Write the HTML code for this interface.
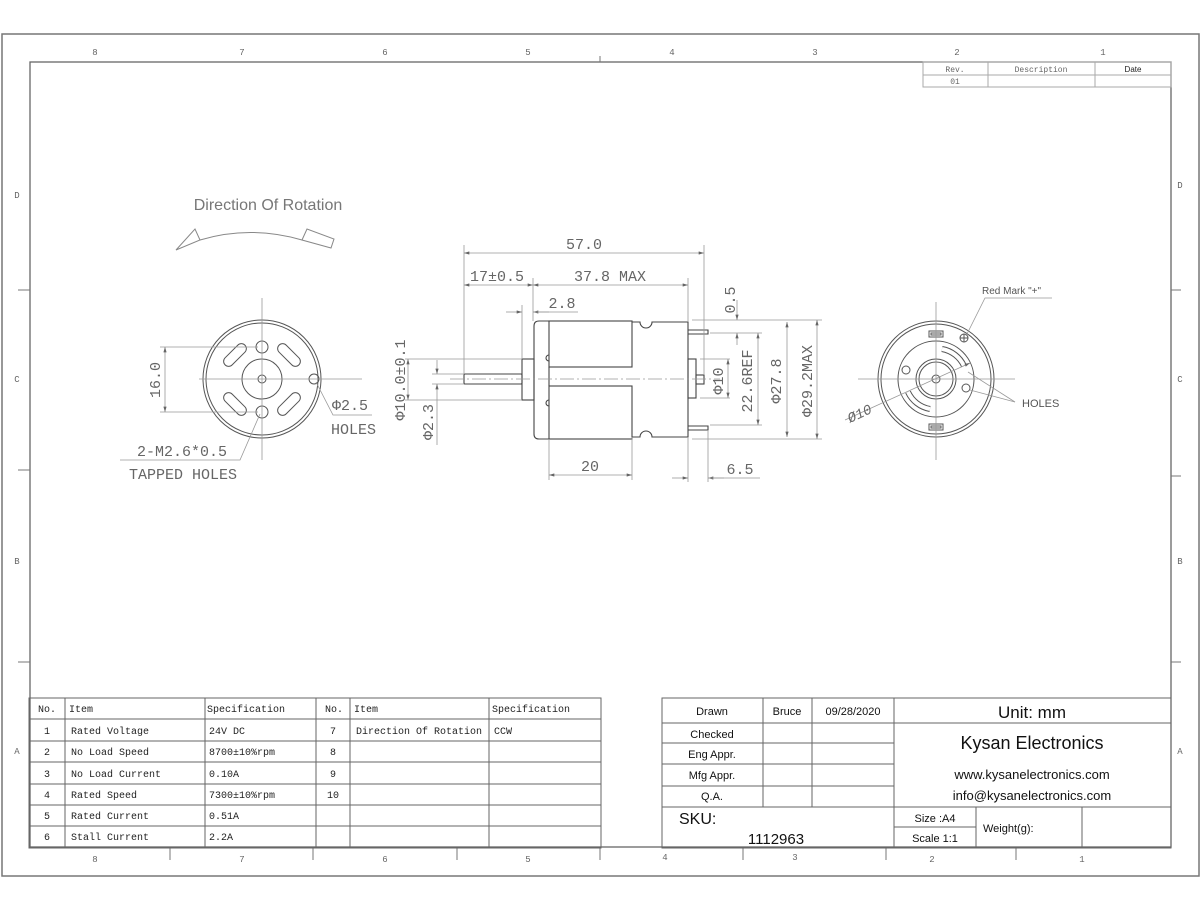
<!DOCTYPE html>
<html><head><meta charset="utf-8"><style>
html,body{margin:0;padding:0;background:#fff;}
svg{display:block;}
.m{font-family:"Liberation Mono",monospace;fill:#666;}
.s{font-family:"Liberation Sans",sans-serif;fill:#222;}
</style></head><body>
<svg width="1200" height="910" viewBox="0 0 1200 910" xmlns="http://www.w3.org/2000/svg">
<defs>
<marker id="a" viewBox="0 0 10 6" refX="10" refY="3" markerWidth="8" markerHeight="4" orient="auto-start-reverse"><path d="M0,0 L10,3 L0,6 z" fill="#666"/></marker>
</defs>
<rect width="1200" height="910" fill="#fff"/>
<rect x="2" y="34" width="1197" height="842" fill="none" stroke="#777" stroke-width="1.5"/>
<rect x="30" y="62" width="1141" height="785" fill="none" stroke="#666" stroke-width="1.3"/>
<g stroke="#777" stroke-width="1">
<line x1="600" y1="56" x2="600" y2="62"/>
<line x1="170" y1="848" x2="170" y2="860"/><line x1="313" y1="848" x2="313" y2="860"/><line x1="457" y1="848" x2="457" y2="860"/><line x1="600" y1="848" x2="600" y2="860"/><line x1="743" y1="848" x2="743" y2="860"/><line x1="886" y1="848" x2="886" y2="860"/><line x1="1016" y1="848" x2="1016" y2="860"/>
<line x1="18" y1="290" x2="30" y2="290"/><line x1="18" y1="470" x2="30" y2="470"/><line x1="18" y1="662" x2="30" y2="662"/>
<line x1="1171" y1="290" x2="1181" y2="290"/><line x1="1171" y1="476" x2="1181" y2="476"/><line x1="1171" y1="662" x2="1181" y2="662"/>
</g>
<g class="m" font-size="9" text-anchor="middle">
<text x="95" y="55">8</text><text x="242" y="55">7</text><text x="385" y="55">6</text><text x="528" y="55">5</text><text x="672" y="55">4</text><text x="815" y="55">3</text><text x="957" y="55">2</text><text x="1103" y="55">1</text>
<text x="95" y="862">8</text><text x="242" y="862">7</text><text x="385" y="862">6</text><text x="528" y="862">5</text><text x="665" y="860">4</text><text x="795" y="860">3</text><text x="932" y="862">2</text><text x="1082" y="862">1</text>
<text x="17" y="198">D</text><text x="17" y="382">C</text><text x="17" y="564">B</text><text x="17" y="754">A</text>
<text x="1180" y="188">D</text><text x="1180" y="382">C</text><text x="1180" y="564">B</text><text x="1180" y="754">A</text>
</g>
<g stroke="#aaa" fill="none"><rect x="923" y="62" width="248" height="25"/><line x1="923" y1="75" x2="1171" y2="75"/><line x1="988" y1="62" x2="988" y2="87"/><line x1="1095" y1="62" x2="1095" y2="87"/></g>
<g font-size="8" text-anchor="middle"><text class="m" x="955" y="72">Rev.</text><text class="m" x="1041" y="72">Description</text><text class="s" x="1133" y="72" fill="#555">Date</text><text class="m" x="955" y="84">01</text></g>

<text x="268" y="210" font-family="Liberation Sans,sans-serif" font-size="16" fill="#777" text-anchor="middle">Direction Of Rotation</text>
<g stroke="#888" fill="none" stroke-width="1">
<path d="M200,240 Q250,225 302,240"/>
<path d="M176,250 L195,229 L200,240 Z"/>
<path d="M302,240 L307,229 L334,239 L331,248 Z"/>
</g>

<g stroke="#555" fill="none" stroke-width="1">
<circle cx="262" cy="379" r="59"/><circle cx="262" cy="379" r="56"/>
<circle cx="262" cy="379" r="20"/><circle cx="262" cy="379" r="4"/>
<circle cx="262" cy="347" r="6"/><circle cx="262" cy="412" r="6"/><circle cx="314" cy="379" r="5"/>
<rect x="-14" y="-5" width="28" height="10" rx="5" transform="translate(235,355) rotate(-45)"/>
<rect x="-14" y="-5" width="28" height="10" rx="5" transform="translate(289,355) rotate(45)"/>
<rect x="-14" y="-5" width="28" height="10" rx="5" transform="translate(235,404) rotate(45)"/>
<rect x="-14" y="-5" width="28" height="10" rx="5" transform="translate(289,404) rotate(-45)"/>
</g>
<g stroke="#999" stroke-width="0.8" fill="none">
<line x1="199" y1="379" x2="362" y2="379"/><line x1="262" y1="298" x2="262" y2="460"/>
<line x1="160" y1="347" x2="258" y2="347"/><line x1="160" y1="412" x2="258" y2="412"/>
<line x1="165" y1="347" x2="165" y2="412" marker-start="url(#a)" marker-end="url(#a)"/>
<polyline points="316,382 333,415 372,415"/>
<polyline points="260,414 240,460 120,460"/>
</g>
<g class="m" font-size="15">
<text transform="translate(160,380) rotate(-90)" text-anchor="middle">16.0</text>
<text x="332" y="410">Φ2.5</text><text x="331" y="434">HOLES</text>
<text x="137" y="456">2-M2.6*0.5</text><text x="129" y="479">TAPPED HOLES</text>
</g>

<g stroke="#444" fill="none" stroke-width="1.1">
<path d="M549,321 L539,321 Q534,321 534,326 L534,434 Q534,439 539,439 L549,439"/>
<rect x="549" y="321" width="83" height="46"/><rect x="549" y="386" width="83" height="53"/>
<line x1="549" y1="367" x2="549" y2="386"/>
<path d="M632,322 L640,322 A6,6 0 0 0 652,322 L688,322 L688,437 L652,437 A6,6 0 0 0 640,437 L632,437"/>
<rect x="522" y="359" width="12" height="41"/>
<rect x="464" y="374" width="58" height="10" rx="1"/>
<rect x="688" y="359" width="8" height="39"/>
<rect x="696" y="375" width="8" height="9"/>
<polyline points="688,330 708,330 708,334 688,334"/>
<polyline points="688,426 708,426 708,430 688,430"/>
<path d="M549,355 a3,3 0 0 0 0,6"/><path d="M549,400 a3,3 0 0 0 0,6"/>
</g>
<g stroke="#999" stroke-width="0.8" fill="none">
<line x1="450" y1="379" x2="720" y2="379" stroke-dasharray="14,3,2,3"/>
<line x1="464" y1="245" x2="464" y2="374"/><line x1="704" y1="245" x2="704" y2="375"/>
<line x1="533" y1="278" x2="533" y2="321"/><line x1="688" y1="278" x2="688" y2="322"/>
<line x1="522" y1="305" x2="522" y2="359"/>
<line x1="464" y1="253" x2="704" y2="253" marker-start="url(#a)" marker-end="url(#a)"/>
<line x1="464" y1="285" x2="533" y2="285" marker-start="url(#a)" marker-end="url(#a)"/>
<line x1="533" y1="285" x2="688" y2="285" marker-start="url(#a)" marker-end="url(#a)"/>
<line x1="506" y1="312" x2="522" y2="312" marker-end="url(#a)"/>
<line x1="549" y1="312" x2="533" y2="312" marker-end="url(#a)"/>
<line x1="533" y1="312" x2="578" y2="312"/>
<line x1="549" y1="439" x2="549" y2="480"/><line x1="632" y1="437" x2="632" y2="480"/>
<line x1="549" y1="475" x2="632" y2="475" marker-start="url(#a)" marker-end="url(#a)"/>
<line x1="688" y1="437" x2="688" y2="482"/><line x1="708" y1="430" x2="708" y2="482"/>
<line x1="672" y1="478" x2="688" y2="478" marker-end="url(#a)"/><line x1="724" y1="478" x2="708" y2="478" marker-end="url(#a)"/><line x1="708" y1="478" x2="760" y2="478"/>
<line x1="692" y1="320" x2="822" y2="320"/><line x1="692" y1="439" x2="822" y2="439"/>
<line x1="710" y1="333" x2="762" y2="333"/><line x1="710" y1="425" x2="762" y2="425"/>
<line x1="700" y1="359" x2="730" y2="359"/><line x1="700" y1="398" x2="730" y2="398"/>
<line x1="737" y1="300" x2="737" y2="320" marker-end="url(#a)"/><line x1="737" y1="345" x2="737" y2="333" marker-end="url(#a)"/>
<line x1="728" y1="359" x2="728" y2="398" marker-start="url(#a)" marker-end="url(#a)"/>
<line x1="758" y1="333" x2="758" y2="425" marker-start="url(#a)" marker-end="url(#a)"/>
<line x1="787" y1="322" x2="787" y2="437" marker-start="url(#a)" marker-end="url(#a)"/>
<line x1="817" y1="320" x2="817" y2="439" marker-start="url(#a)" marker-end="url(#a)"/>
<line x1="405" y1="359" x2="522" y2="359"/><line x1="405" y1="400" x2="522" y2="400"/>
<line x1="432" y1="374" x2="464" y2="374"/><line x1="432" y1="384" x2="464" y2="384"/>
<line x1="408" y1="359" x2="408" y2="400" marker-start="url(#a)" marker-end="url(#a)"/>
<line x1="437" y1="360" x2="437" y2="374" marker-end="url(#a)"/><line x1="437" y1="398" x2="437" y2="384" marker-end="url(#a)"/><line x1="437" y1="398" x2="437" y2="445"/>
</g>
<g class="m" font-size="15" text-anchor="middle">
<text x="584" y="249">57.0</text>
<text x="497" y="281">17±0.5</text>
<text x="610" y="281">37.8 MAX</text>
<text x="562" y="308">2.8</text>
<text x="590" y="471">20</text>
<text x="740" y="474">6.5</text>
<text transform="translate(735,300) rotate(-90)">0.5</text>
<text transform="translate(723,381) rotate(-90)">Φ10</text>
<text transform="translate(752,381) rotate(-90)">22.6REF</text>
<text transform="translate(781,381) rotate(-90)">Φ27.8</text>
<text transform="translate(812,381) rotate(-90)">Φ29.2MAX</text>
<text transform="translate(405,380) rotate(-90)">Φ10.0±0.1</text>
<text transform="translate(433,422) rotate(-90)">Φ2.3</text>
</g>

<g stroke="#555" fill="none" stroke-width="1">
<circle cx="936" cy="379" r="58"/><circle cx="936" cy="379" r="55"/>
<circle cx="936" cy="379" r="38"/><circle cx="936" cy="379" r="20"/><circle cx="936" cy="379" r="17"/><circle cx="936" cy="379" r="4"/>
<rect x="929" y="331" width="14" height="6"/><rect x="931" y="333" width="10" height="2"/>
<rect x="929" y="424" width="14" height="6"/><rect x="931" y="426" width="10" height="2"/>
<circle cx="964" cy="338" r="4"/><line x1="960" y1="338" x2="968" y2="338"/><line x1="964" y1="334" x2="964" y2="342"/>
<circle cx="906" cy="370" r="4"/><circle cx="966" cy="388" r="4"/>
<path d="M942,349 A30,30 0 0 1 964,366" stroke-width="6" stroke="#555"/>
<path d="M942,349 A30,30 0 0 1 964,366" stroke-width="4" stroke="#fff"/>
<path d="M930,409 A30,30 0 0 1 908,392" stroke-width="6" stroke="#555"/>
<path d="M930,409 A30,30 0 0 1 908,392" stroke-width="4" stroke="#fff"/>
</g>
<g stroke="#999" stroke-width="0.8" fill="none">
<line x1="858" y1="379" x2="1015" y2="379"/><line x1="936" y1="302" x2="936" y2="460"/>
<polyline points="1052,298 985,298 966,336"/>
<polyline points="1015,402 968,372"/><polyline points="1015,402 970,390"/>
<line x1="845" y1="420" x2="970" y2="363" marker-end="url(#a)"/>
</g>
<text x="982" y="294" font-family="Liberation Sans,sans-serif" font-size="10" fill="#555">Red Mark "+"</text>
<text x="1022" y="407" font-family="Liberation Sans,sans-serif" font-size="11" fill="#555">HOLES</text>
<text transform="translate(850,423) rotate(-25)" class="m" font-size="14" font-style="italic">Ø10</text>

<g stroke="#666" fill="none" stroke-width="1">
<rect x="29" y="698" width="572" height="150"/>
<line x1="29" y1="719" x2="601" y2="719"/><line x1="29" y1="741" x2="601" y2="741"/><line x1="29" y1="762" x2="601" y2="762"/><line x1="29" y1="784" x2="601" y2="784"/><line x1="29" y1="805" x2="601" y2="805"/><line x1="29" y1="826" x2="601" y2="826"/>
<line x1="65" y1="698" x2="65" y2="848"/><line x1="205" y1="698" x2="205" y2="848"/><line x1="316" y1="698" x2="316" y2="848"/><line x1="350" y1="698" x2="350" y2="848"/><line x1="489" y1="698" x2="489" y2="848"/>
</g>
<g font-family="Liberation Mono,monospace" font-size="10" fill="#222">
<text x="38" y="712">No.</text><text x="69" y="712">Item</text><text x="207" y="712">Specification</text><text x="325" y="712">No.</text><text x="354" y="712">Item</text><text x="492" y="712">Specification</text>
<g text-anchor="middle"><text x="47" y="734">1</text><text x="47" y="755">2</text><text x="47" y="777">3</text><text x="47" y="798">4</text><text x="47" y="819">5</text><text x="47" y="840">6</text>
<text x="333" y="734">7</text><text x="333" y="755">8</text><text x="333" y="777">9</text><text x="333" y="798">10</text></g>
<text x="71" y="734">Rated Voltage</text><text x="71" y="755">No Load Speed</text><text x="71" y="777">No Load Current</text><text x="71" y="798">Rated Speed</text><text x="71" y="819">Rated Current</text><text x="71" y="840">Stall Current</text>
<text x="209" y="734">24V DC</text><text x="209" y="755">8700±10%rpm</text><text x="209" y="777">0.10A</text><text x="209" y="798">7300±10%rpm</text><text x="209" y="819">0.51A</text><text x="209" y="840">2.2A</text>
<text x="356" y="734">Direction Of Rotation</text><text x="494" y="734">CCW</text>
</g>

<g stroke="#666" fill="none" stroke-width="1">
<rect x="662" y="698" width="509" height="150"/>
<line x1="662" y1="723" x2="1171" y2="723"/>
<line x1="662" y1="743" x2="894" y2="743"/><line x1="662" y1="764" x2="894" y2="764"/><line x1="662" y1="786" x2="894" y2="786"/>
<line x1="662" y1="807" x2="1171" y2="807"/>
<line x1="763" y1="698" x2="763" y2="807"/><line x1="812" y1="698" x2="812" y2="807"/><line x1="894" y1="698" x2="894" y2="848"/>
<line x1="894" y1="827" x2="976" y2="827"/><line x1="976" y1="807" x2="976" y2="848"/><line x1="1082" y1="807" x2="1082" y2="848"/>
</g>
<g font-family="Liberation Sans,sans-serif" fill="#111" text-anchor="middle">
<text x="712" y="715" font-size="11">Drawn</text><text x="787" y="715" font-size="11">Bruce</text><text x="853" y="715" font-size="11">09/28/2020</text>
<text x="712" y="738" font-size="11">Checked</text><text x="712" y="758" font-size="11">Eng Appr.</text><text x="712" y="779" font-size="11">Mfg Appr.</text><text x="712" y="800" font-size="11">Q.A.</text>
<text x="1032" y="718" font-size="17">Unit: mm</text>
<text x="1032" y="749" font-size="18">Kysan Electronics</text>
<text x="1032" y="779" font-size="13">www.kysanelectronics.com</text>
<text x="1032" y="800" font-size="13">info@kysanelectronics.com</text>
<text x="776" y="844" font-size="15">1112963</text>
<text x="935" y="822" font-size="11">Size :A4</text><text x="935" y="842" font-size="11">Scale 1:1</text>
</g>
<text x="679" y="824" font-family="Liberation Sans,sans-serif" font-size="16" fill="#111">SKU:</text>
<text x="983" y="832" font-family="Liberation Sans,sans-serif" font-size="11" fill="#111">Weight(g):</text>
</svg>
</body></html>
